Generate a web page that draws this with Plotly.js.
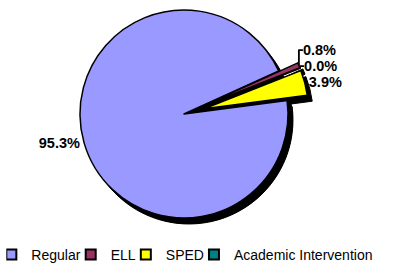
<!DOCTYPE html>
<html>
<head>
<meta charset="utf-8">
<script src="https://cdn.plot.ly/plotly-3.0.1.min.js"></script>
<style>
  html, body { margin: 0; padding: 0; overflow: hidden; background: #fff; }
  #chart { position: absolute; left: 0; top: -15px; width: 396px; height: 296px; }
</style>
</head>
<body>
<div id="chart"></div>
<script>
// legend order
var categories = ['Regular', 'ELL', 'SPED', 'Academic Intervention'];
var shares = [95.3, 0.8, 3.9, 0.0];
var sliceColors = ['#9999FF', '#993366', '#FFFF00', '#008080'];
// clockwise drawing order of the slices (index into the arrays above)
var sliceOrder = [0, 1, 3, 2];
var pullOf = [0, 0.2, 0.2, 0.2];

function pick(arr) { return sliceOrder.map(function (i) { return arr[i]; }); }

var rot = 82.5;
var common = {
  type: 'pie',
  values: pick(shares),
  sort: false,
  direction: 'clockwise',
  rotation: rot,
  showlegend: false
};

var shadowFull = Object.assign({}, common, {
  labels: ['s'],
  values: [1],
  marker: {colors: ['#000000'], line: {width: 0}},
  textinfo: 'none', hoverinfo: 'skip',
  domain: {x: [0.2146, 0.7399], y: [0.1926, 0.8953]}
});

var shadowSlices = Object.assign({}, common, {
  labels: ['s0', 's1', 's2', 's3'],
  pull: pick(pullOf),
  marker: {colors: ['#000000', '#000000', '#000000', '#000000'], line: {color: '#000000', width: 1}},
  textinfo: 'none', hoverinfo: 'skip',
  domain: {x: [0.1621, 0.7924], y: [0.1223, 0.9655]}
});

var mainPie = Object.assign({}, common, {
  labels: pick(categories),
  pull: pick(pullOf),
  marker: {colors: pick(sliceColors), line: {color: '#000000', width: 1.5}},
  texttemplate: '%{percent:.1%}',
  textposition: 'outside',
  textfont: {family: 'Liberation Sans, Arial, sans-serif', size: 14.5, weight: 'bold', color: '#000000'},
  domain: {x: [0.1495, 0.7798], y: [0.1426, 0.9858]}
});

// legend entries (one per category, in legend order)
var legendTraces = categories.map(function (name, i) {
  return {
    type: 'scatter', mode: 'markers', name: name,
    x: [null], y: [null],
    marker: {symbol: 'square', size: 10, color: sliceColors[i], line: {color: '#000000', width: 2}},
    hoverinfo: 'skip'
  };
});

var layout = {
  width: 396, height: 296,
  margin: {l: 0, r: 0, t: 0, b: 0},
  paper_bgcolor: '#ffffff',
  plot_bgcolor: 'rgba(0,0,0,0)',
  xaxis: {visible: false, fixedrange: true},
  yaxis: {visible: false, fixedrange: true},
  showlegend: true,
  legend: {
    orientation: 'h', x: 0.016, xanchor: 'left', y: 0.0878, yanchor: 'middle',
    indentation: -15,
    font: {family: 'Liberation Sans, Arial, sans-serif', size: 14, color: '#000000'},
    traceorder: 'normal'
  }
};

Plotly.newPlot('chart', [shadowFull, shadowSlices, mainPie].concat(legendTraces), layout, {staticPlot: true, displayModeBar: false});
</script>
</body>
</html>
